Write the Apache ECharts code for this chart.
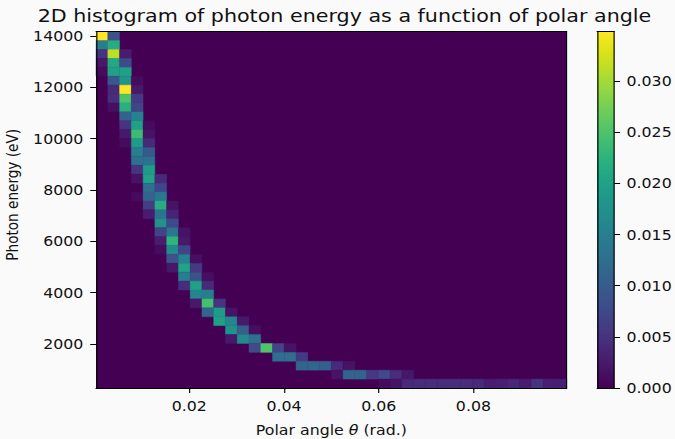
<!DOCTYPE html>
<html>
<head>
<meta charset="utf-8">
<title>2D histogram of photon energy</title>
<script src="https://cdn.jsdelivr.net/npm/echarts@6/dist/echarts.min.js"></script>
<style>
  html, body { margin: 0; padding: 0; background: #fafafa; overflow: hidden; }
  /* the figure is laid out 582 px wide and widened to 675 px on screen */
  #chart { width: 582px; height: 439px; transform: scaleX(1.1598); transform-origin: 0 0; }
</style>
</head>
<body>
<div id="chart"></div>
<script>
// Histogram binning
const angleRange = [0.0003, 0.0997];   // polar angle, rad.
const energyRange = [286, 14167];      // photon energy, eV
const angleBins = 40;
const energyBins = 40;

// Non-empty bins: [angle bin, energy bin, density]
const densityCells = [
  [0,39,0.0348],[1,39,0.0087],
  [0,38,0.0150],[1,38,0.0216],
  [0,37,0.0052],[1,37,0.0313],[2,37,0.0028],
  [0,36,0.0021],[1,36,0.0209],[2,36,0.0077],
  [0,35,0.0010],[1,35,0.0198],[2,35,0.0198],
  [1,34,0.0094],[2,34,0.0181],[3,34,0.0010],
  [1,33,0.0042],[2,33,0.0348],[3,33,0.0024],
  [1,32,0.0045],[2,32,0.0251],[3,32,0.0059],
  [1,31,0.0014],[2,31,0.0219],[3,31,0.0070],
  [2,30,0.0108],[3,30,0.0153],
  [2,29,0.0052],[3,29,0.0198],[4,29,0.0010],
  [2,28,0.0024],[3,28,0.0237],[4,28,0.0017],
  [2,27,0.0010],[3,27,0.0191],[4,27,0.0042],
  [3,26,0.0150],[4,26,0.0097],
  [3,25,0.0129],[4,25,0.0129],
  [3,24,0.0052],[4,24,0.0191],
  [3,23,0.0017],[4,23,0.0202],[5,23,0.0042],
  [4,22,0.0129],[5,22,0.0073],
  [3,21,0.0010],[4,21,0.0111],[5,21,0.0139],
  [4,20,0.0063],[5,20,0.0216],[6,20,0.0017],
  [4,19,0.0028],[5,19,0.0132],[6,19,0.0035],
  [5,18,0.0174],[6,18,0.0077],
  [5,17,0.0070],[6,17,0.0139],[7,17,0.0017],
  [5,16,0.0028],[6,16,0.0226],[7,16,0.0024],
  [5,15,0.0010],[6,15,0.0164],[7,15,0.0070],
  [6,14,0.0087],[7,14,0.0153],[8,14,0.0014],
  [6,13,0.0021],[7,13,0.0202],[8,13,0.0059],
  [7,12,0.0146],[8,12,0.0087],[9,12,0.0014],
  [7,11,0.0045],[8,11,0.0198],[9,11,0.0042],
  [8,10,0.0157],[9,10,0.0150],
  [8,9,0.0024],[9,9,0.0244],[10,9,0.0052],
  [9,8,0.0111],[10,8,0.0191],[11,8,0.0017],
  [10,7,0.0198],[11,7,0.0157],[12,7,0.0024],
  [11,6,0.0174],[12,6,0.0104],[13,6,0.0014],
  [11,5,0.0024],[12,5,0.0164],[13,5,0.0129],
  [13,4,0.0077],[14,4,0.0251],[15,4,0.0070],[16,4,0.0017],
  [15,3,0.0125],[16,3,0.0125],[17,3,0.0059],
  [17,2,0.0111],[18,2,0.0111],[19,2,0.0104],[20,2,0.0042],[21,2,0.0017],
  [20,1,0.0017],[21,1,0.0111],[22,1,0.0111],[23,1,0.0059],[24,1,0.0077],[25,1,0.0045],[26,1,0.0021],
  [24,0,0.0010],[25,0,0.0017],[26,0,0.0042],[27,0,0.0045],[28,0,0.0045],[29,0,0.0045],
  [30,0,0.0045],[31,0,0.0045],[32,0,0.0042],[33,0,0.0028],[34,0,0.0031],[35,0,0.0038],
  [36,0,0.0028],[37,0,0.0052],[38,0,0.0031],[39,0,0.0031]
];

const angleTicks = [0.02, 0.04, 0.06, 0.08];
const energyTicks = [2000, 4000, 6000, 8000, 10000, 12000, 14000];
const colorbarTicks = [0, 0.005, 0.010, 0.015, 0.020, 0.025, 0.030];
const colorbarMax = 0.0348;

// viridis colour map, 21 evenly spaced stops
const viridis = [
  '#440154','#471365','#482475','#463480','#414487','#3b528b','#355f8d',
  '#2f6c8e','#2a788e','#25848e','#21918c','#1e9c89','#22a884','#2fb47c',
  '#44bf70','#5ec962','#7ad151','#9bd93c','#bddf26','#dfe318','#fde725'
];

const FONT = 'DejaVu Sans';
const INK = '#111';
const fontSize = 13.6;

// bins of the histogram as rectangles: [x0, x1, y0, y1, density];
// empty bins take the zero colour of the map from the plot background
const dAngle = (angleRange[1] - angleRange[0]) / angleBins;
const dEnergy = (energyRange[1] - energyRange[0]) / energyBins;
const binRects = densityCells.map(([i, j, v]) => [
  angleRange[0] + i * dAngle, angleRange[0] + (i + 1) * dAngle,
  energyRange[0] + j * dEnergy, energyRange[0] + (j + 1) * dEnergy,
  v
]);

function renderBin(params, api) {
  const p0 = api.coord([api.value(0), api.value(2)]);
  const p1 = api.coord([api.value(1), api.value(3)]);
  const color = api.visual('color');
  return {
    type: 'rect',
    shape: { x: p0[0], y: p1[1], width: p1[0] - p0[0], height: p0[1] - p1[1] },
    style: { fill: color, stroke: color, lineWidth: 0.4 }
  };
}

function renderColorbar(params, api) {
  const p0 = api.coord([api.value(0), api.value(2)]);
  const p1 = api.coord([api.value(1), api.value(3)]);
  const stops = viridis.map((c, k) => ({ offset: k / (viridis.length - 1), color: c }));
  return {
    type: 'rect',
    shape: { x: p0[0], y: p1[1], width: p1[0] - p0[0], height: p0[1] - p1[1] },
    style: { fill: new echarts.graphic.LinearGradient(0, 1, 0, 0, stops) }
  };
}

const labelStyle = { fontFamily: FONT, fontSize: fontSize, color: INK };
const frameLine = { show: true, onZero: false, lineStyle: { color: '#000', width: 1 } };
const tickStyle = { color: '#000', width: 1 };

function frameAxis(gridIndex, position, min, max) {
  return {
    type: 'value', gridIndex, position, min, max, z: 5,
    axisLine: frameLine, axisTick: { show: false }, axisLabel: { show: false },
    splitLine: { show: false }
  };
}

const chart = echarts.init(document.getElementById('chart'), null, { renderer: 'svg' });
chart.setOption({
  animation: false,
  backgroundColor: '#fafafa',
  title: {
    text: '2D histogram of photon energy as a function of polar angle',
    left: 292, top: 2, textAlign: 'center',
    textStyle: { fontFamily: FONT, fontSize: 17.8, fontWeight: 'normal', color: INK }
  },
  grid: [
    { left: 82.8, top: 31.7, width: 405.8, height: 356.3, outerBoundsMode: 'none',
      show: true, backgroundColor: viridis[0], borderWidth: 0 },
    { left: 514.8, top: 31.7, width: 14.9, height: 356.3, outerBoundsMode: 'none' }
  ],
  xAxis: [
    {
      type: 'value', gridIndex: 0, position: 'bottom', z: 5,
      min: angleRange[0], max: angleRange[1],
      axisLine: frameLine,
      axisTick: { show: true, customValues: angleTicks, length: 5, lineStyle: tickStyle },
      axisLabel: Object.assign({ customValues: angleTicks, margin: 11,
        formatter: v => v.toFixed(2) }, labelStyle),
      splitLine: { show: false },
      name: 'Polar angle {i|θ} (rad.)', nameLocation: 'middle', nameGap: 35,
      nameTextStyle: Object.assign({
        rich: { i: { fontFamily: FONT, fontSize: fontSize, fontStyle: 'italic', color: INK } }
      }, labelStyle)
    },
    frameAxis(0, 'top', angleRange[0], angleRange[1]),
    frameAxis(1, 'bottom', 0, 1),
    frameAxis(1, 'top', 0, 1)
  ],
  yAxis: [
    {
      type: 'value', gridIndex: 0, position: 'left', z: 5,
      min: energyRange[0], max: energyRange[1],
      axisLine: frameLine,
      axisTick: { show: true, customValues: energyTicks, length: 5, lineStyle: tickStyle },
      axisLabel: Object.assign({ customValues: energyTicks, margin: 11,
        formatter: v => String(v) }, labelStyle),
      splitLine: { show: false },
      name: 'Photon energy (eV)', nameLocation: 'middle', nameGap: 58,
      nameTextStyle: Object.assign({ padding: [0, 0, 0, 30] }, labelStyle)
    },
    frameAxis(0, 'right', energyRange[0], energyRange[1]),
    {
      type: 'value', gridIndex: 1, position: 'right', z: 5,
      min: 0, max: colorbarMax,
      axisLine: frameLine,
      axisTick: { show: true, customValues: colorbarTicks, length: 5, lineStyle: tickStyle },
      axisLabel: Object.assign({ customValues: colorbarTicks, margin: 10.5,
        formatter: v => v.toFixed(3) }, labelStyle),
      splitLine: { show: false }
    },
    frameAxis(1, 'left', 0, colorbarMax)
  ],
  visualMap: {
    show: false, type: 'continuous', seriesIndex: 0, dimension: 4,
    min: 0, max: colorbarMax, inRange: { color: viridis }
  },
  series: [
    {
      type: 'custom', xAxisIndex: 0, yAxisIndex: 0,
      renderItem: renderBin,
      dimensions: ['x0', 'x1', 'y0', 'y1', 'density'],
      encode: { x: [0, 1], y: [2, 3] },
      data: binRects,
      silent: true
    },
    {
      type: 'custom', xAxisIndex: 2, yAxisIndex: 2,
      renderItem: renderColorbar,
      encode: { x: [0, 1], y: [2, 3] },
      data: [[0, 1, 0, colorbarMax]],
      silent: true
    }
  ]
});
</script>
</body>
</html>
